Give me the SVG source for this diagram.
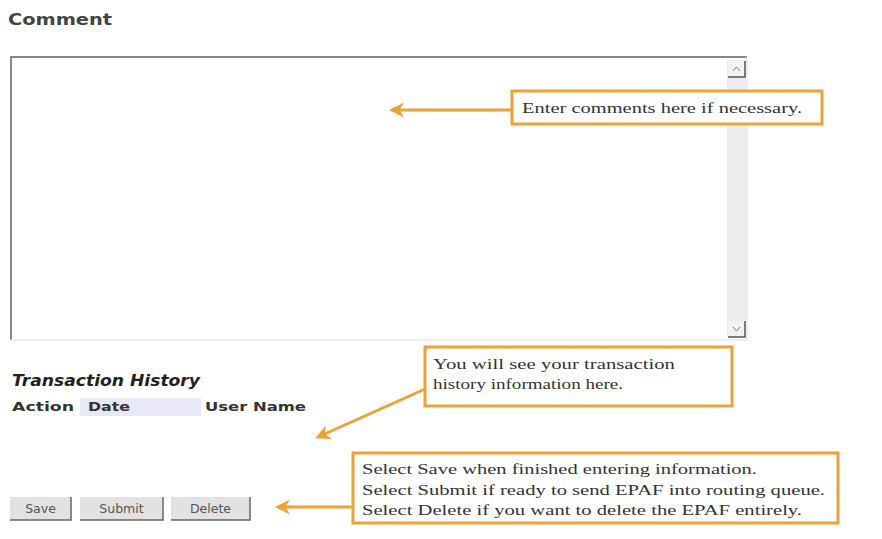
<svg xmlns="http://www.w3.org/2000/svg" width="882" height="539" viewBox="0 0 882 539">
<style>
.ui{font-family:"DejaVu Sans",Verdana,sans-serif;}
.note{font-family:"Liberation Serif","Times New Roman",serif;font-size:15.5px;fill:#333;}
.box{fill:#fff;stroke:#eea235;stroke-width:3;}
.conn{stroke:#eea235;stroke-width:3;fill:none;}
.btn{fill:#e2e2e2;}
.btnsh{stroke:#666;stroke-width:1.5;fill:none;}
.btntx{font-family:"DejaVu Sans",Verdana,sans-serif;font-size:12.5px;fill:#555;}
</style>
<defs>
<marker id="ah" viewBox="0 0 10 10" refX="8" refY="5" markerWidth="5" markerHeight="5" orient="auto" markerUnits="strokeWidth">
<path d="M10,5 L0,0 L3,5 L0,10 Z" fill="#eea235"/>
</marker>
</defs>
<rect width="882" height="539" fill="#fff"/>
<text class="ui" x="8" y="25" font-size="16" font-weight="bold" fill="#444" textLength="104" lengthAdjust="spacingAndGlyphs">Comment</text>
<g id="textarea">
<rect x="11" y="57" width="736" height="283" fill="#fff"/>
<rect x="727" y="60" width="19" height="278" fill="#ececec"/>
<path d="M11,340 L11,57 L747,57" stroke="#888" stroke-width="2" fill="none"/>
<path d="M11,340 L747,340 L747,57" stroke="#eaeaea" stroke-width="1.5" fill="none"/>
<g id="scroll-up">
<rect x="728" y="61" width="17" height="16" fill="#f2f2f2"/>
<path d="M728,77 L745,77 L745,61" stroke="#555" stroke-width="1.5" fill="none"/>
<path d="M733,71 L736.5,67 L740,71" stroke="#777" stroke-width="1" fill="none"/>
</g>
<g id="scroll-down">
<rect x="728" y="321" width="17" height="16" fill="#f2f2f2"/>
<path d="M728,337 L745,337 L745,321" stroke="#555" stroke-width="1.5" fill="none"/>
<path d="M733,327 L736.5,331 L740,327" stroke="#777" stroke-width="1" fill="none"/>
</g>
</g>
<g id="history">
<text class="ui" x="12" y="386" font-size="15" font-weight="bold" font-style="italic" fill="#222" textLength="188" lengthAdjust="spacingAndGlyphs">Transaction History</text>
<rect x="80" y="398" width="121" height="18" fill="#e8e8f6"/>
<text class="ui" x="12" y="411" font-size="13" font-weight="bold" fill="#333" textLength="62" lengthAdjust="spacingAndGlyphs">Action</text>
<text class="ui" x="88" y="411" font-size="13" font-weight="bold" fill="#333" textLength="42" lengthAdjust="spacingAndGlyphs">Date</text>
<text class="ui" x="205" y="411" font-size="13" font-weight="bold" fill="#333" textLength="101" lengthAdjust="spacingAndGlyphs">User Name</text>
</g>
<g id="btn-save">
<rect class="btn" x="10" y="497" width="61" height="23"/>
<path class="btnsh" d="M10,520 L71,520 L71,497"/>
<text class="btntx" x="40.5" y="513" text-anchor="middle">Save</text>
</g>
<g id="btn-submit">
<rect class="btn" x="80" y="497" width="83" height="23"/>
<path class="btnsh" d="M80,520 L163,520 L163,497"/>
<text class="btntx" x="121.5" y="513" text-anchor="middle">Submit</text>
</g>
<g id="btn-delete">
<rect class="btn" x="171" y="497" width="79" height="23"/>
<path class="btnsh" d="M171,520 L250,520 L250,497"/>
<text class="btntx" x="210.5" y="513" text-anchor="middle">Delete</text>
</g>
<g id="connectors">
<line class="conn" x1="512" y1="110" x2="392" y2="110" marker-end="url(#ah)"/>
<line class="conn" x1="425" y1="389" x2="318" y2="437" marker-end="url(#ah)"/>
<line class="conn" x1="353" y1="507" x2="278" y2="507" marker-end="url(#ah)"/>
</g>
<g id="note-comment">
<rect class="box" x="512" y="91" width="310" height="33"/>
<text class="note" x="522" y="113" textLength="280" lengthAdjust="spacingAndGlyphs">Enter comments here if necessary.</text>
</g>
<g id="note-history">
<rect class="box" x="425" y="347" width="307" height="59"/>
<text class="note" x="433" y="369" textLength="242" lengthAdjust="spacingAndGlyphs">You will see your transaction</text>
<text class="note" x="433" y="389" textLength="190" lengthAdjust="spacingAndGlyphs">history information here.</text>
</g>
<g id="note-buttons">
<rect class="box" x="353" y="453" width="485" height="70"/>
<text class="note" x="362" y="474" textLength="395" lengthAdjust="spacingAndGlyphs">Select Save when finished entering information.</text>
<text class="note" x="362" y="495" textLength="463" lengthAdjust="spacingAndGlyphs">Select Submit if ready to send EPAF into routing queue.</text>
<text class="note" x="362" y="515" textLength="440" lengthAdjust="spacingAndGlyphs">Select Delete if you want to delete the EPAF entirely.</text>
</g>
</svg>
